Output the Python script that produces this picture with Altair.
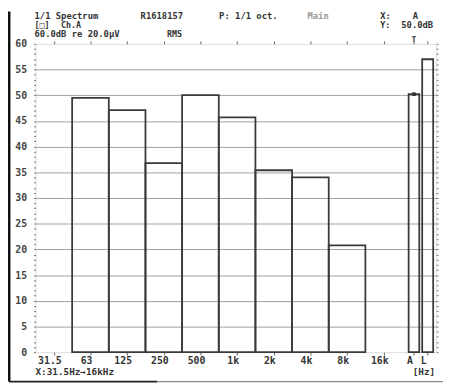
import altair as alt
import pandas as pd

# ---- data ----
bands = ["31.5", "63", "125", "250", "500", "1k", "2k", "4k", "8k", "16k", "A", "L"]
levels = [None, 49.5, 47.1, 36.8, 50.0, 45.7, 35.4, 34.0, 20.8, None, 50.2, 57.0]
header_1 = ["1/1 Spectrum", "R1618157", "P: 1/1 oct.", "Main", "X:", "A"]
header_2 = ["[□]", "Ch.A", "Y:", "50.0dB"]
header_3 = ["60.0dB re 20.0\u03bcV", "RMS"]
footer = ["X:31.5Hz\u219216kHz", "[Hz]"]
cursor_band = "A"

# ---- layout (positions of the 12 slots on the x scale) ----
n_oct = 10
x0 = [float(i) for i in range(n_oct)] + [10.18, 10.55]
x1 = [float(i + 1) for i in range(n_oct)] + [10.47, 10.85]
centers = [(a + b) / 2 for a, b in zip(x0, x1)]

df = pd.DataFrame({"band": bands, "level": levels, "x0": x0, "x1": x1, "c": centers})

FONT = "DejaVu Sans Mono"
INK = "#333333"
W, H = 408, 314

xs = alt.Scale(domain=[0, 10.93], nice=False, zero=False)
ys = alt.Scale(domain=[0, 60], nice=False)

grid_cond = {"condition": {"test": "datum.value % 5 === 0 && datum.value > 0 && datum.value < 60", "value": 1}, "value": 0}

yaxis_left = alt.Axis(
    orient="left", values=list(range(61)),
    labelExpr="datum.value % 5 === 0 ? datum.label : ''",
    labelOverlap=False, gridOpacity=grid_cond, gridColor="#a0a0a0", gridWidth=1,
    tickSize=2, tickColor="#777", labelPadding=7, labelFont=FONT, labelFontSize=10,
    labelFontWeight="bold", labelColor="#444", domain=False, title=None,
)

bars = alt.Chart(df).mark_rect(filled=False, stroke="#3a3a3a", strokeWidth=1.8).encode(
    x=alt.X("x0:Q", scale=xs, axis=alt.Axis(orient="bottom", values=centers, labels=False,
                                            tickSize=3, tickColor="#666", domain=False,
                                            grid=False, title=None)),
    x2="x1:Q",
    y=alt.Y("level:Q", scale=ys, axis=yaxis_left),
    y2=alt.datum(0),
)

xlabels = alt.Chart(df).mark_text(
    dx=-4, baseline="middle", font=FONT, fontSize=10, fontWeight="bold", color=INK
).encode(
    x=alt.X("c:Q", scale=xs, axis=alt.Axis(orient="top", values=centers, labels=False,
                                           tickSize=3, tickColor="#666", domain=False,
                                           grid=False, title=None)),
    y=alt.value(H + 9),
    text="band:N",
)

marker = alt.Chart(df).transform_filter(f"datum.band == '{cursor_band}'").mark_square(
    size=14, color=INK, opacity=1
).encode(
    x=alt.X("c:Q", scale=xs, axis=None),
    y=alt.Y("level:Q", scale=ys, axis=alt.Axis(orient="right", values=list(range(61)),
                                               labels=False, tickSize=2, tickColor="#777",
                                               grid=False, domain=False, title=None)),
)

cursor = alt.Chart(df).transform_filter(f"datum.band == '{cursor_band}'").mark_text(
    font=FONT, fontSize=8, fontWeight="bold", color=INK, baseline="bottom"
).encode(x=alt.X("c:Q", scale=xs, axis=None), y=alt.value(0), text=alt.value("T"))

one = pd.DataFrame({"k": [0]})


def txt(s, x, y, align="left", color=INK, size=8.5):
    return alt.Chart(one).mark_text(
        align=align, baseline="middle", font=FONT, fontSize=size, fontWeight="bold", color=color
    ).encode(x=alt.value(x), y=alt.value(y), text=alt.value(s))


L1, L2, L3 = -28.5, -19, -9.5
texts = [
    txt(header_1[0], -1, L1, size=9),
    txt(header_1[1], 107, L1, size=9),
    txt(header_1[2], 187, L1, size=9),
    txt(header_1[3], 277, L1, color="#9a9a9a", size=9),
    txt(header_1[4], 351, L1, size=9),
    txt(header_1[5], 387, L1, align="center", size=9),
    txt(header_2[0], -1, L2),
    txt(header_2[1], 26, L2),
    txt(header_2[2], 351, L2),
    txt(header_2[3], 405, L2, align="right", size=9),
    txt(header_3[0], -1, L3, size=9),
    txt(header_3[1], 134, L3),
    txt(footer[0], 0, 334, size=9.5),
    txt(footer[1], 407, 334, align="right", size=9.5),
]


def rule(xa, xb, ya, yb, color, w):
    return alt.Chart(one).mark_rule(color=color, strokeWidth=w).encode(
        x=alt.value(xa), x2=alt.value(xb), y=alt.value(ya), y2=alt.value(yb))


frame = [
    rule(-27, -27, -33, 344, "#111111", 3),
    rule(-27, 124, 344, 344, "#222222", 2),
    rule(124, 415, 344, 344, "#8a8a8a", 1.5),
]

chart = alt.layer(bars, xlabels, marker, cursor, *texts, *frame).resolve_axis(
    x="independent", y="independent"
).properties(
    width=W, height=H,
    autosize=alt.AutoSizeParams(type="none"),
    padding={"left": 28, "top": 33, "right": 7, "bottom": 32},
).configure_view(stroke="#666666", strokeWidth=1).configure(background="white")

chart.save("out.html", embed_options={"renderer": "svg", "actions": False})
